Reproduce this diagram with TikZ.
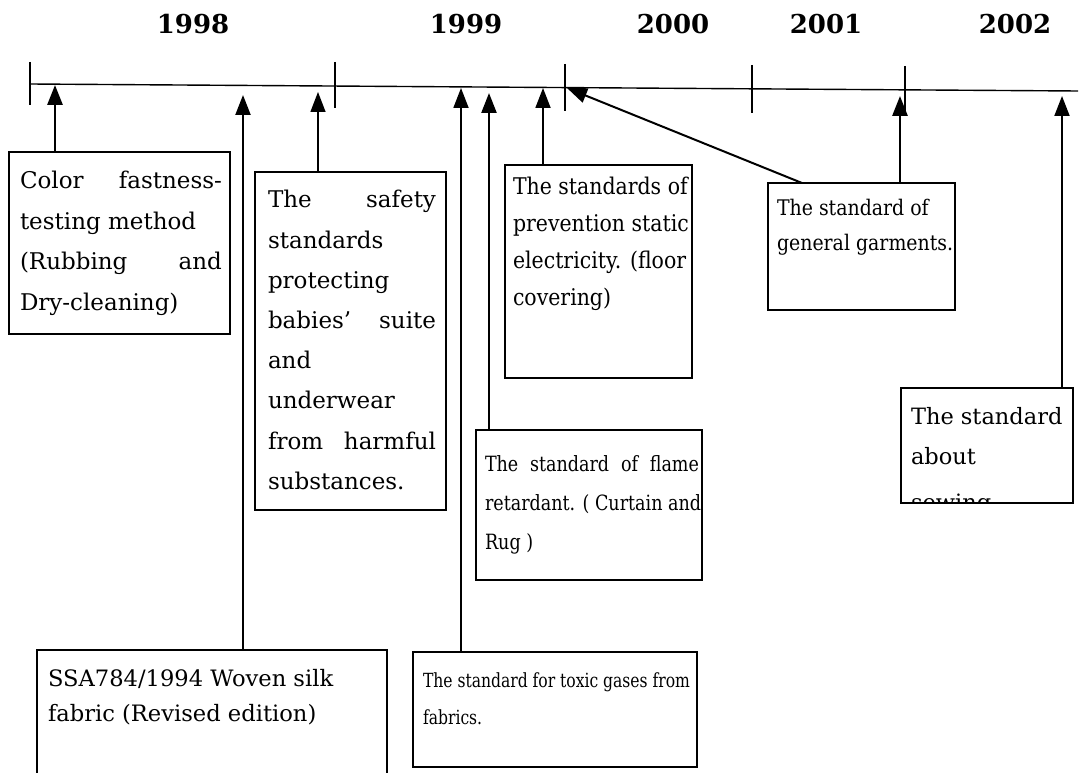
\documentclass[tikz,border=0pt]{standalone}
\usepackage{fontspec}
\setmainfont{DejaVu Serif}
% narrower cuts of the same face for the tighter boxes
\newfontfamily\narrowC{DejaVu Serif}[FakeStretch=0.89]
\newfontfamily\narrowD{DejaVu Serif}[FakeStretch=0.88]
\newfontfamily\narrowF{DejaVu Serif}[FakeStretch=0.80]
\newfontfamily\narrowG{DejaVu Serif}[FakeStretch=0.835]
\usetikzlibrary{arrows.meta}
% a line stretched to a given width (justified line)
\newcommand\spreadline[2]{\makebox[#1][s]{#2}}
\newcommand\fs[2]{\fontsize{#1}{#2}\selectfont}
\begin{document}
\begin{tikzpicture}[x=1pt,y=-1pt,
  box/.style={draw,line width=1.6pt,inner sep=0pt,outer sep=0pt,anchor=north west},
  txt/.style={anchor=north west,inner sep=0pt,outer sep=0pt,align=left},
  year/.style={font=\fs{26}{26}\bfseries},
  tick/.style={line width=2.6pt},
  up/.style={-{Triangle[length=20pt,width=15pt]}},
]
\clip (0,0) rectangle (1080,773);

% years
\node[year] (y1998) at (193,24) {1998};
\node[year] (y1999) at (466,24) {1999};
\node[year] (y2000) at (673,24) {2000};
\node[year] (y2001) at (826,24) {2001};
\node[year] (y2002) at (1015,24) {2002};

% time axis and year separators
\coordinate (axL) at (30,84);
\coordinate (axR) at (1078,91);
\draw[line width=1.4pt] (axL) -- (axR);
\draw[tick] (30,62) -- (30,105);
\draw[tick] (335,62) -- (335,108);
\draw[tick] (565,64) -- (565,111);
\draw[tick] (752,65) -- (752,113);
\draw[tick] (905,66) -- (905,115);

% points on the axis
\coordinate (p1) at (55,85);
\coordinate (p2) at (243,95);
\coordinate (p3) at (318,92);
\coordinate (p4) at (461,88);
\coordinate (p5) at (489,93);
\coordinate (p6) at (543,88);
\coordinate (p7) at (567,88);
\coordinate (p8) at (900,96);
\coordinate (p9) at (1062,96);

% boxes
\node[box,minimum width=221pt,minimum height=182pt] (A) at (9,152) {};
\node[box,minimum width=191pt,minimum height=338pt] (B) at (255,172) {};
\node[box,minimum width=187pt,minimum height=213pt] (C) at (505,165) {};
\node[box,minimum width=187pt,minimum height=127pt] (D) at (768,183) {};
\node[box,minimum width=350pt,minimum height=160pt] (E) at (37,650) {};
\node[box,minimum width=284pt,minimum height=115pt] (F) at (413,652) {};
\node[box,minimum width=226pt,minimum height=150pt] (G) at (476,430) {};
\node[box,minimum width=172pt,minimum height=115pt] (H) at (901,388) {};

% texts
\node[txt,font=\fs{23}{40.5}] (At) at (20,171.5) {%
\spreadline{202pt}{Color fastness-}\\
testing method\\
\spreadline{202pt}{(Rubbing and}\\
Dry-cleaning)};

\node[txt,font=\fs{23}{40.2}] (Bt) at (268,190.5) {%
\spreadline{168pt}{The safety}\\
standards\\
protecting\\
\spreadline{168pt}{babies' suite}\\
and\\
underwear\\
\spreadline{168pt}{from harmful}\\
substances.};

\node[txt,font=\narrowC\fs{23}{37}] (Ct) at (513,177.5) {%
The standards of\\
prevention static\\
electricity. (floor\\
covering)};

\node[txt,font=\narrowD\fs{21.5}{35}] (Dt) at (777,199.5) {%
The standard of\\
general garments.};

\node[txt,font=\fs{22.6}{35}] (Et) at (48,669) {%
SSA784/1994 Woven silk\\
fabric (Revised edition)};

\node[txt,font=\narrowF\fs{19.5}{37}] (Ft) at (423,673) {%
\spreadline{267pt}{The standard for toxic gases from}\\
fabrics.};

\node[txt,font=\narrowG\fs{21}{39}] (Gt) at (485,455.5) {%
\spreadline{214pt}{The standard of flame}\\
retardant. ( Curtain and\\
Rug )};

\begin{scope}
\clip ([shift={(1pt,-1pt)}]H.north west) rectangle ([shift={(-1pt,1pt)}]H.south east);
\node[txt,font=\fs{22.5}{40}] (Ht) at (911,407) {%
The standard\\
about\\[6pt]
sewing};
\end{scope}

% connectors
\draw[up,line width=2.8pt] (A.north -| p1) -- (p1);
\draw[up,line width=2.2pt] (E.north -| p2) -- (p2);
\draw[up,line width=1.4pt] (B.north -| p3) -- (p3);
\draw[up,line width=1.8pt] (F.north -| p4) -- (p4);
\draw[up,line width=2.4pt] (G.north -| p5) -- (p5);
\draw[up,line width=1.8pt] (C.north -| p6) -- (p6);
\draw[up,line width=2pt] ([xshift=34pt]D.north west) -- (p7);
\draw[up,line width=2.8pt] (D.north -| p8) -- (p8);
\draw[up,line width=2pt] (H.north -| p9) -- (p9);
\end{tikzpicture}
\end{document}
